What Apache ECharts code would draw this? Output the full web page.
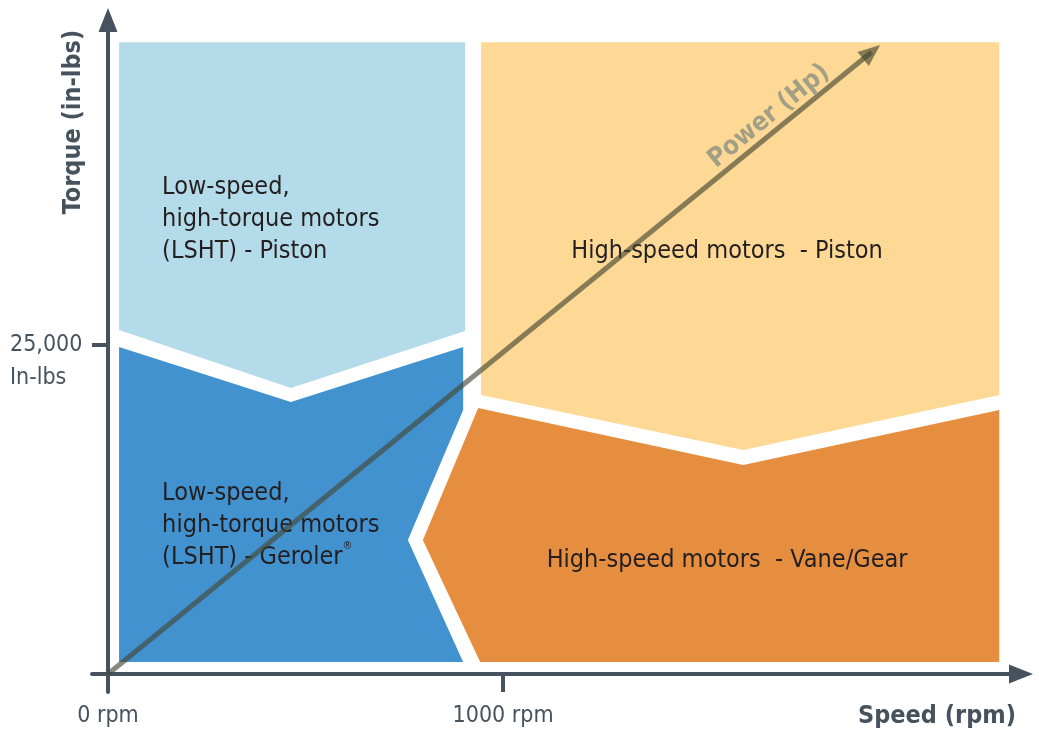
<!DOCTYPE html>
<html>
<head>
<meta charset="utf-8">
<script src="https://cdn.jsdelivr.net/npm/echarts@6/dist/echarts.min.js"></script>
<style>
  html, body { margin: 0; background: #fff; }
  #chart { width: 1039px; height: 732px; }
</style>
</head>
<body>
<div id="chart"></div>
<script>
// axis ticks
const speedTicks = [0, 1000];
const speedLabels = ['0 rpm', '1000 rpm'];
const torqueTicks = [25000];
const torqueLabels = ['25,000', 'In-lbs'];

// region outlines as [rpm, in-lbs]
const lshtPiston = [[28, 48000], [904, 48000], [904, 26060], [463, 21730], [28, 26140]];
const lshtGeroler = [[28, 24850], [463, 20670], [899, 24850], [899, 20060], [759, 10180], [899, 910], [28, 910]];
const hsPiston = [[944, 48000], [2256, 48000], [2256, 21200], [1608, 17020], [944, 21200]];
const hsVaneGear = [[937, 20210], [1608, 15880], [2256, 20060], [2256, 910], [942, 910], [797, 10180]];
const powerLine = [[0, 0], [1933, 47260]];

const regionNames = [
    'Low-speed,\nhigh-torque motors\n(LSHT) - Piston',
    'Low-speed,\nhigh-torque motors\n(LSHT) - Geroler{sup|®}',
    'High-speed motors  - Piston',
    'High-speed motors  - Vane/Gear'
];

const FONT = '"DejaVu Sans Condensed", "Liberation Sans Narrow", sans-serif';
const AXIS = '#46535f';

const regions = [
    {shape: lshtPiston, color: '#b4dbe9', at: [137, 34570], align: 'left'},
    {shape: lshtGeroler, color: '#4392d0', at: [137, 11320], align: 'left'},
    {shape: hsPiston, color: '#fdd995', at: [1567, 32140], align: 'center'},
    {shape: hsVaneGear, color: '#e68e40', at: [1567, 8660], align: 'center'}
];

const renderRegion = (params, api) => {
    const r = regions[params.dataIndex];
    const pts = r.shape.map(p => api.coord(p));
    const at = api.coord(r.at);
    return {
        type: 'group',
        children: [
            {type: 'polygon', shape: {points: pts}, style: {fill: r.color}},
            {
                type: 'text', x: at[0], y: at[1],
                style: {
                    text: regionNames[params.dataIndex],
                    fill: '#231f20',
                    fontSize: 25,
                    fontFamily: FONT,
                    lineHeight: 32,
                    align: r.align,
                    verticalAlign: 'middle',
                    rich: {
                        sup: {fontSize: 11, fontFamily: FONT, fill: '#231f20', verticalAlign: 'top', lineHeight: 32}
                    }
                }
            }
        ]
    };
};

const chart = echarts.init(document.getElementById('chart'), null, {renderer: 'canvas'});
chart.setOption({
    animation: false,
    grid: {left: 92, right: 18, top: 20, bottom: 40, outerBoundsMode: 'none'},
    xAxis: {
        type: 'value',
        min: -40.5,
        max: 2311,
        splitLine: {show: false},
        axisLine: {
            onZero: true,
            symbol: ['none', 'triangle'],
            symbolSize: [19, 24],
            lineStyle: {color: AXIS, width: 4}
        },
        axisTick: {show: true, customValues: speedTicks, length: 18, lineStyle: {color: AXIS, width: 4}},
        axisLabel: {
            customValues: speedTicks,
            formatter: v => speedLabels[speedTicks.indexOf(v)],
            margin: 13,
            color: AXIS,
            fontSize: 23,
            fontFamily: FONT
        }
    },
    yAxis: {
        type: 'value',
        min: -1368,
        max: 49696,
        splitLine: {show: false},
        axisLine: {
            onZero: true,
            symbol: ['none', 'triangle'],
            symbolSize: [19, 24],
            lineStyle: {color: AXIS, width: 4}
        },
        axisTick: {show: true, customValues: torqueTicks, length: 16, lineStyle: {color: AXIS, width: 4}},
        axisLabel: {
            customValues: torqueTicks,
            formatter: () => torqueLabels.map(t => '{t|' + t + '}').join('\n'),
            margin: 10,
            padding: [33, 0, 0, 0],
            verticalAlign: 'middle',
            rich: {
                t: {width: 72, align: 'left', color: AXIS, fontSize: 23, fontFamily: FONT, lineHeight: 33}
            }
        }
    },
    graphic: [
        {
            type: 'text', x: 73, y: 122, rotation: Math.PI / 2,
            style: {
                text: 'Torque (in-lbs)', fill: AXIS, fontSize: 25, fontWeight: 'bold',
                fontFamily: FONT, align: 'center', verticalAlign: 'middle'
            }
        },
        {
            type: 'text', x: 937, y: 716,
            style: {
                text: 'Speed (rpm)', fill: AXIS, fontSize: 25, fontWeight: 'bold',
                fontFamily: FONT, align: 'center', verticalAlign: 'middle'
            }
        }
    ],
    series: [{
        type: 'custom',
        coordinateSystem: 'cartesian2d',
        renderItem: renderRegion,
        data: regions.map((r, i) => [r.shape[0][0], r.shape[0][1], i]),
        encode: {x: 0, y: 1},
        silent: true,
        z: 2,
        markLine: {
            silent: true,
            symbol: ['none', 'triangle'],
            symbolSize: [18, 22],
            lineStyle: {color: 'rgba(68,70,50,0.64)', width: 5, type: 'solid'},
            emphasis: {disabled: true},
            label: {
                show: true,
                formatter: 'Power (Hp)',
                position: 'insideEndTop',
                distance: [46, 2],
                color: '#a39f84',
                fontSize: 26,
                fontWeight: 'bold',
                fontFamily: FONT
            },
            data: [[{coord: powerLine[0]}, {coord: powerLine[1]}]]
        }
    }]
});
</script>
</body>
</html>
